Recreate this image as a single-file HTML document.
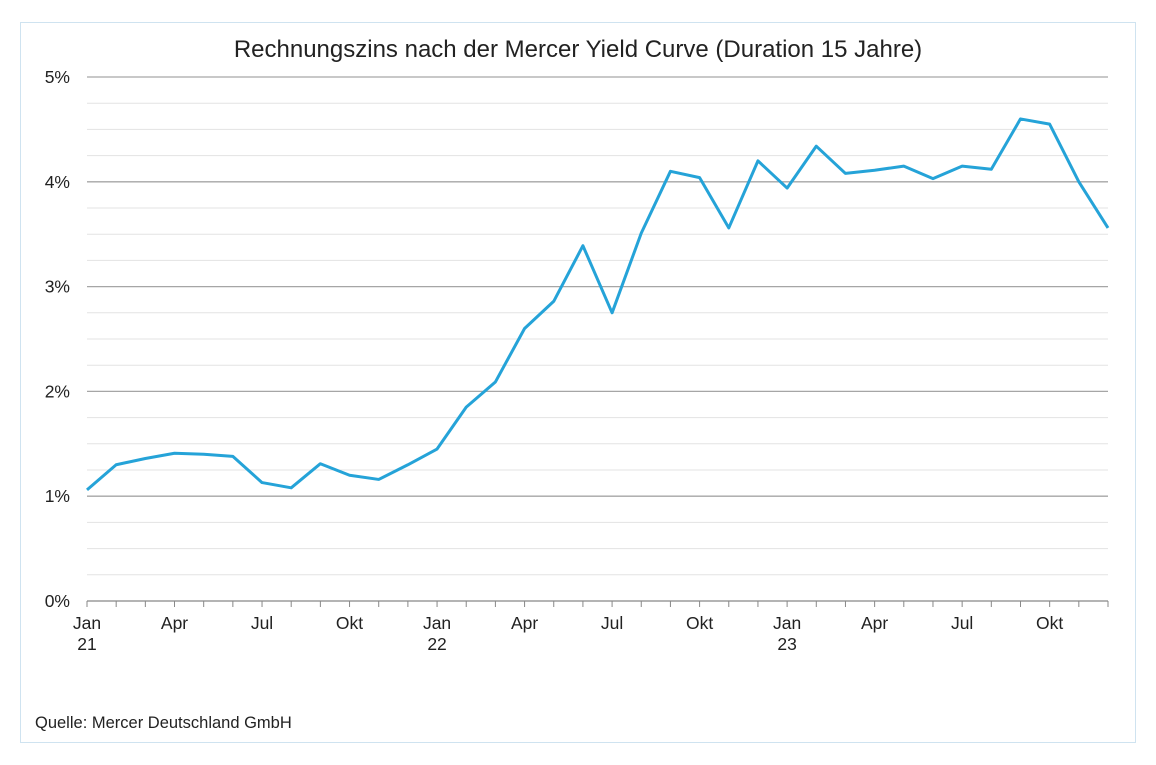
<!DOCTYPE html>
<html><head><meta charset="utf-8"><style>
body{margin:0;background:#fff;font-family:"Liberation Sans",Arial,sans-serif;}
#frame{position:absolute;left:20px;top:22px;width:1114px;height:719px;border:1px solid #cfe3f0;}
</style></head><body>
<div id="frame"></div>
<svg id="chart" width="1156" height="765" style="position:absolute;left:0;top:0">
<text x="578" y="57" text-anchor="middle" font-size="24" fill="#222">Rechnungszins nach der Mercer Yield Curve (Duration 15 Jahre)</text>
<text x="35" y="728" font-size="16.5" fill="#222">Quelle: Mercer Deutschland GmbH</text>
</svg>
<script>
const values=[1.06,1.30,1.36,1.41,1.40,1.38,1.13,1.08,1.31,1.20,1.16,1.30,1.45,1.85,2.09,2.60,2.86,3.39,2.75,3.51,4.10,4.04,3.56,4.20,3.94,4.34,4.08,4.11,4.15,4.03,4.15,4.12,4.60,4.55,4.00,3.56];
const monthLabels=["Jan","Apr","Jul","Okt"];
const yearLabels=["21","22","23"];
const yTicks=[0,1,2,3,4,5];
const svg=document.getElementById('chart');
const NS='http://www.w3.org/2000/svg';
const x0=87,x1=1108,y0=601,y5=77;
const xs=i=>x0+i*(x1-x0)/(values.length-1);
const ys=v=>y0-v*(y0-y5)/5;
function mk(t,a){const e=document.createElementNS(NS,t);for(const k in a)e.setAttribute(k,a[k]);svg.appendChild(e);return e;}
for(let v=0;v<=5;v+=0.25){
 const major=Math.abs(v-Math.round(v))<1e-9;
 if(v===0)continue;
 const l=mk('line',{x1:x0,x2:x1,y1:ys(v),y2:ys(v),stroke:major?'#a6a6a6':'#e3e3e3','stroke-width':major?1.3:1});
 
 
}
yTicks.forEach(v=>{
 const t=mk('text',{x:70,y:ys(v)+6,'text-anchor':'end','font-size':17.5,fill:'#222'});
 t.textContent=v+'%';
 
 
});
const ax=mk('line',{x1:x0,x2:x1,y1:y0,y2:y0,stroke:'#888','stroke-width':1.3});


for(let i=0;i<values.length;i++){
 const tk=mk('line',{x1:xs(i),x2:xs(i),y1:y0,y2:y0+6,stroke:'#888'});
 
 
 if(i%3===0){
  const t=mk('text',{x:xs(i),y:629,'text-anchor':'middle','font-size':17.5,fill:'#222'});
  t.textContent=monthLabels[(i/3)%4];
  
  
  if(i%12===0){
   const y=mk('text',{x:xs(i),y:650,'text-anchor':'middle','font-size':17.5,fill:'#222'});
   y.textContent=yearLabels[i/12];
   
   
  }
 }
}
const p=mk('polyline',{points:values.map((v,i)=>xs(i)+','+ys(v)).join(' '),fill:'none',stroke:'#25a3d8','stroke-width':3,'stroke-linejoin':'round'});


</script>
</body></html>
